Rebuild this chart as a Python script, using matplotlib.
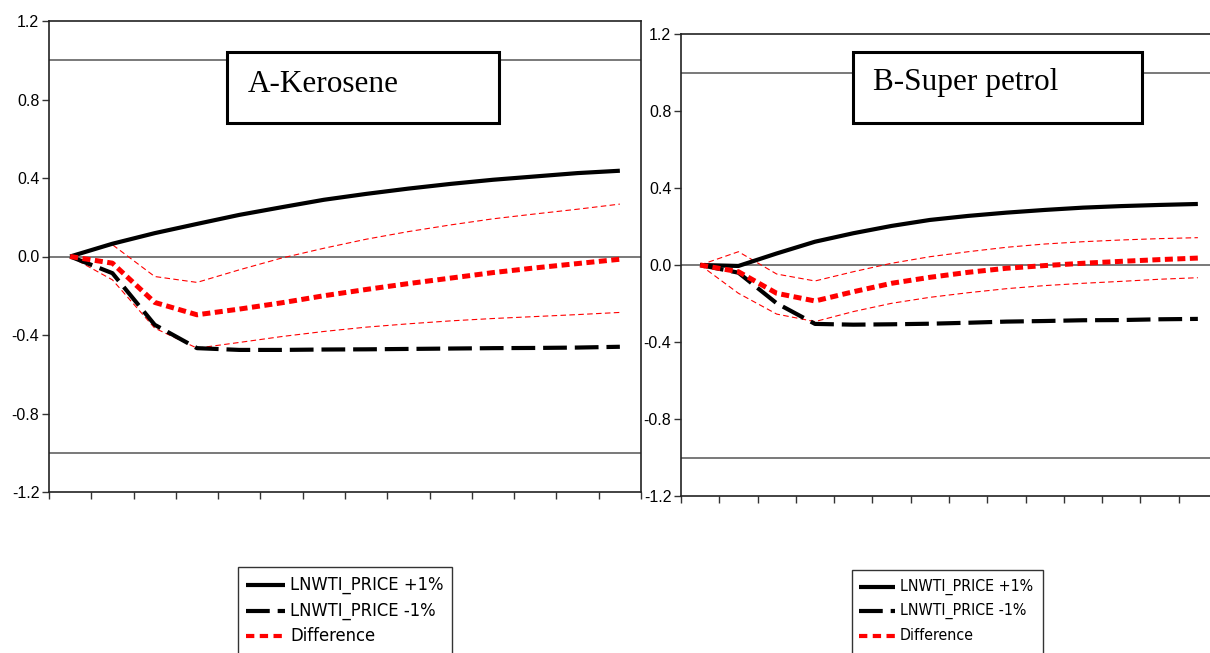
import matplotlib
matplotlib.use("Agg")
import matplotlib.pyplot as plt
import numpy as np
from matplotlib import font_manager
from matplotlib.lines import Line2D
from matplotlib.patches import Rectangle

# periods 1..14 of the impulse responses
periods = np.arange(14)

# A - Kerosene
ker_plus = [0.0, 0.065, 0.119, 0.166, 0.212, 0.251, 0.289, 0.319, 0.346, 0.370, 0.391, 0.408, 0.425, 0.437]
ker_minus = [0.0, -0.085, -0.348, -0.467, -0.476, -0.476, -0.474, -0.473, -0.471, -0.469, -0.467, -0.466, -0.464, -0.460]
ker_diff = [0.0, -0.034, -0.234, -0.297, -0.268, -0.236, -0.200, -0.168, -0.138, -0.110, -0.082, -0.058, -0.036, -0.014]
ker_upper = [0.0, 0.060, -0.102, -0.132, -0.068, -0.008, 0.042, 0.088, 0.127, 0.161, 0.192, 0.217, 0.241, 0.267]
ker_lower = [0.0, -0.119, -0.365, -0.467, -0.438, -0.408, -0.382, -0.360, -0.343, -0.328, -0.316, -0.306, -0.296, -0.285]

# B - Super petrol
pet_plus = [0.0, -0.005, 0.060, 0.121, 0.165, 0.203, 0.234, 0.255, 0.272, 0.286, 0.298, 0.306, 0.312, 0.317]
pet_minus = [0.0, -0.040, -0.199, -0.306, -0.310, -0.308, -0.305, -0.300, -0.294, -0.291, -0.287, -0.286, -0.282, -0.280]
pet_diff = [0.0, -0.035, -0.147, -0.187, -0.139, -0.095, -0.064, -0.038, -0.017, -0.003, 0.009, 0.019, 0.028, 0.036]
pet_upper = [0.0, 0.069, -0.047, -0.083, -0.035, 0.009, 0.043, 0.069, 0.092, 0.109, 0.121, 0.130, 0.137, 0.142]
pet_lower = [0.0, -0.147, -0.255, -0.294, -0.242, -0.199, -0.168, -0.144, -0.123, -0.107, -0.095, -0.085, -0.074, -0.066]

yticks = [-1.2, -0.8, -0.4, 0.0, 0.4, 0.8, 1.2]
labels = ["LNWTI_PRICE +1%", "LNWTI_PRICE -1%", "Difference"]

W, H = 1210, 653
def fx(x):
    return x / W
def fy(y):
    return 1 - y / H

# pick a narrow sans for the legend if one is there
names = {f.name for f in font_manager.fontManager.ttflist}
leg_kw = dict(family=["Liberation Sans", "DejaVu Sans"])
leg_scale = 1.0
if "Liberation Sans Narrow" in names:
    leg_kw = dict(family=["Liberation Sans Narrow", "DejaVu Sans"])
    leg_scale = 1.18
else:
    cond = [f for f in font_manager.fontManager.ttflist
            if f.name == "DejaVu Sans" and "ondensed" in f.fname and "Bold" not in f.fname
            and "Oblique" not in f.fname]
    if cond:
        leg_kw = dict(family=["DejaVu Sans"], stretch="condensed")
        leg_scale = 1.05

plt.rcParams["font.family"] = ["Liberation Sans", "DejaVu Sans"]

fig = plt.figure(figsize=(12.1, 6.53), dpi=100)

styles = {
    "plus": dict(color="black", lw=3.0, ls="-", solid_capstyle="butt"),
    "minus": dict(color="black", lw=3.0, ls=(0, (5.7, 1.9)), dash_capstyle="butt"),
    "diff": dict(color="red", lw=3.6, ls=(0, (1.6, 0.9)), dash_capstyle="butt"),
    "band": dict(color="red", lw=0.8, ls=(0, (5, 3))),
}


def panel(rect, plus, minus, diff, upper, lower, title, box, text_xy):
    ax = fig.add_axes(rect)
    ax.axhline(0, color="#555555", lw=1.1, zorder=1)
    ax.axhline(1, color="#555555", lw=1.1, zorder=1)
    ax.axhline(-1, color="#555555", lw=1.1, zorder=1)
    ax.plot(periods, upper, **styles["band"], zorder=2)
    ax.plot(periods, lower, **styles["band"], zorder=2)
    ax.plot(periods, plus, **styles["plus"], zorder=3)
    ax.plot(periods, minus, **styles["minus"], zorder=3)
    ax.plot(periods, diff, **styles["diff"], zorder=4)
    ax.set_xlim(-0.5, 13.5)
    ax.set_ylim(-1.2, 1.2)
    ax.set_yticks(yticks)
    ax.set_yticklabels(["%.1f" % v for v in yticks], fontsize=11.5)
    ax.set_xticks(np.arange(-0.5, 14, 1))
    ax.set_xticklabels([])
    ax.tick_params(axis="both", direction="out", length=5, width=1.0, color="#333333", pad=2)
    # the longer tick at period 9
    ax.set_xticks([8.5], minor=True)
    ax.tick_params(axis="x", which="minor", length=8, width=1.0, color="#333333")
    for s in ax.spines.values():
        s.set_linewidth(1.2)
        s.set_color("#222222")
    # title box
    x0, y0, x1, y1 = box
    fig.patches.append(Rectangle((fx(x0), fy(y1)), fx(x1) - fx(x0), fy(y0) - fy(y1),
                                 transform=fig.transFigure, facecolor="white",
                                 edgecolor="black", lw=2.2, zorder=5))
    fig.text(fx(text_xy[0]), fy(text_xy[1]), title, fontsize=22.5,
             family=["Liberation Serif", "DejaVu Serif"], va="baseline", ha="left", zorder=6)
    return ax


ax1 = panel([fx(49), fy(492), fx(592), 471 / H], ker_plus, ker_minus, ker_diff,
            ker_upper, ker_lower, "A-Kerosene", (227, 52, 499, 123), (248, 92))
ax2 = panel([fx(681), fy(496), fx(536), 462 / H], pet_plus, pet_minus, pet_diff,
            pet_upper, pet_lower, "B-Super petrol", (853, 52, 1142, 123), (873, 90))


def legend(x0, x1, top, h0, h1, tx, rows, size):
    fig.patches.append(Rectangle((fx(x0), fy(top + 120)), fx(x1) - fx(x0), fy(top) - fy(top + 120),
                                 transform=fig.transFigure, facecolor="white",
                                 edgecolor="#333333", lw=1.0, zorder=5))
    for key, lab, ry in zip(["plus", "minus", "diff"], labels, rows):
        st = dict(styles[key])
        if key == "diff":
            st["lw"] = 3.0
            st["ls"] = (0, (2.0, 1.3))
        fig.add_artist(Line2D([fx(h0), fx(h1)], [fy(ry), fy(ry)], transform=fig.transFigure,
                              zorder=6, **st))
        fig.text(fx(tx), fy(ry), lab, fontsize=size * leg_scale, va="center", ha="left",
                 zorder=6, **leg_kw)


legend(238, 452, 567, 246, 285, 290, [585, 611, 636], 12.5)
legend(852, 1043, 570, 859, 895, 900, [587, 611, 636], 10.9)

fig.savefig("out.png", dpi=100)
